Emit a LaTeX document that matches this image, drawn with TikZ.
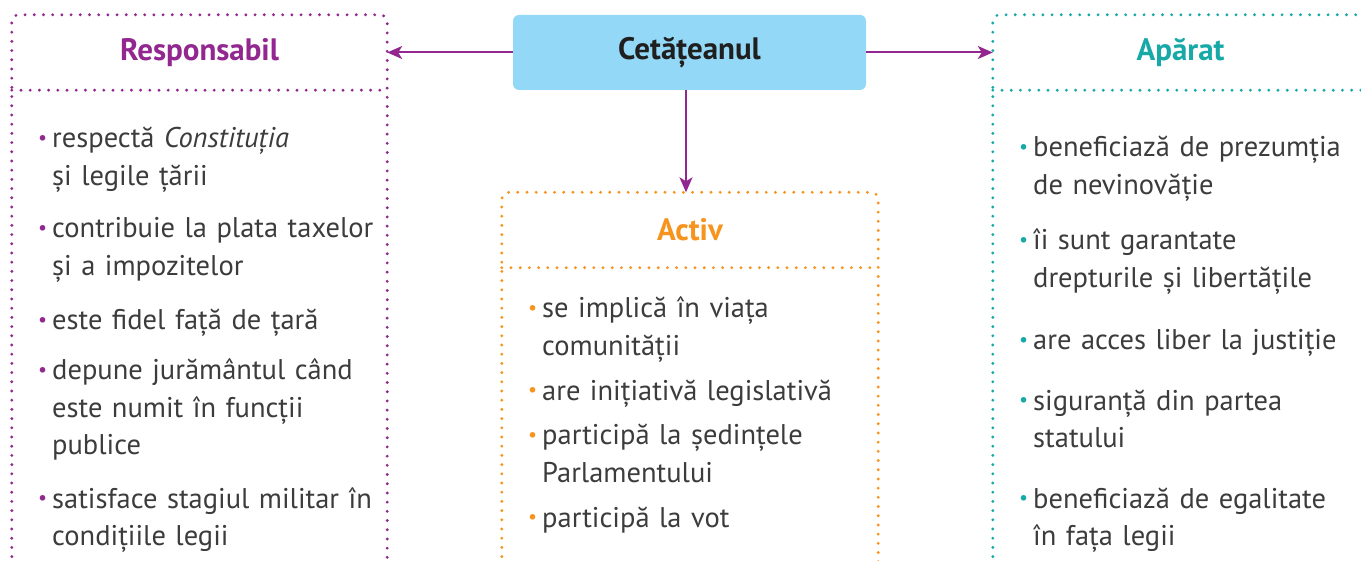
\documentclass[tikz,border=0pt]{standalone}
\usepackage{fontspec}
\setmainfont{PT Sans}
\usetikzlibrary{arrows.meta, positioning}

\definecolor{civpurple}{HTML}{92278F}
\definecolor{civteal}{HTML}{17A9A7}
\definecolor{civorange}{HTML}{F7941D}
\definecolor{civblue}{HTML}{93D8F6}
\definecolor{civtext}{HTML}{3C3C3C}

% bullet hanging to the left of the text
\newcommand\civbul[1]{\llap{\textcolor{#1}{\raisebox{0.28ex}{\scalebox{0.7}{\textbullet}}}\hspace{5pt}}}

\tikzset{
  dotline/.style={line width=3.2pt, line cap=round, dash pattern=on 0pt off 9.2pt},
  headbox/.style={minimum width=375pt, minimum height=75pt, inner sep=0pt,
    font=\fontsize{31}{34}\selectfont\bfseries},
  itm/.style={anchor=base west, inner sep=0pt, text width=360pt, align=left,
    text=civtext, font=\fontsize{28.5}{37.5}\selectfont},
  link/.style={-{Stealth[length=15pt,width=13pt,inset=4pt]}, civpurple, line width=2pt},
}

\begin{document}
\begin{tikzpicture}[x=1pt,y=-1pt]
  \useasboundingbox (0,0) rectangle (1361,561);
  \clip (0,0) rectangle (1361,561);

  % headers
  \node[headbox, fill=civblue, rounded corners=6pt, minimum width=353pt, text=black!88] (cet) at (689.5,52.5) {Cetățeanul};
  \node[headbox, text=civpurple] (resp) at (199.5,52.5) {Responsabil};
  \node[headbox, text=civorange, minimum width=376pt] (act) at (690,230) {Activ};
  \node[headbox, text=civteal] (apar) at (1180.5,52.5) {Apărat};

  % dotted frames
  \draw[dotline, civpurple, rounded corners=7pt] (resp.west |- 0,575) -- (resp.north west) -- (resp.north east) -- (resp.east |- 0,575);
  \draw[dotline, civpurple] (resp.south west) -- (resp.south east);
  \draw[dotline, civorange, rounded corners=7pt] (act.west |- 0,575) -- (act.north west) -- (act.north east) -- (act.east |- 0,575);
  \draw[dotline, civorange] (act.south west) -- (act.south east);
  \draw[dotline, civteal, rounded corners=7pt] (apar.west |- 0,575) -- (apar.north west) -- (apar.north east) -- (apar.east |- 0,575);
  \draw[dotline, civteal] (apar.south west) -- (apar.south east);

  % arrows
  \draw[link] (cet.west) -- (resp.east);
  \draw[link] (cet.east) -- (apar.west);
  \draw[link] (cet.south -| 686,0) -- (act.north -| 686,0);

  % Responsabil
  \node[itm] (r1) at (52,148) {\civbul{civpurple}respectă \textit{Constituția}\\și legile țării};
  \node[itm] (r2) at (52,238) {\civbul{civpurple}contribuie la plata taxelor\\și a impozitelor};
  \node[itm] (r3) at (52,330) {\civbul{civpurple}este fidel față de țară};
  \node[itm] (r4) at (52,380) {\civbul{civpurple}depune jurământul când\\este numit în funcții\\publice};
  \node[itm] (r5) at (52,508) {\civbul{civpurple}satisface stagiul militar în\\condițiile legii};

  % Activ
  \node[itm] (a1) at (542,318) {\civbul{civorange}se implică în viața\\comunității};
  \node[itm] (a2) at (542,400) {\civbul{civorange}are inițiativă legislativă};
  \node[itm] (a3) at (542,445) {\civbul{civorange}participă la ședințele\\Parlamentului};
  \node[itm] (a4) at (542,527) {\civbul{civorange}participă la vot};

  % Aparat
  \node[itm] (p1) at (1033,157) {\civbul{civteal}beneficiază de prezumția\\de nevinovăție};
  \node[itm] (p2) at (1033,250) {\civbul{civteal}îi sunt garantate\\drepturile și libertățile};
  \node[itm] (p3) at (1033,350) {\civbul{civteal}are acces liber la justiție};
  \node[itm] (p4) at (1033,410) {\civbul{civteal}siguranță din partea\\statului};
  \node[itm] (p5) at (1033,508) {\civbul{civteal}beneficiază de egalitate\\în fața legii};
\end{tikzpicture}
\end{document}
